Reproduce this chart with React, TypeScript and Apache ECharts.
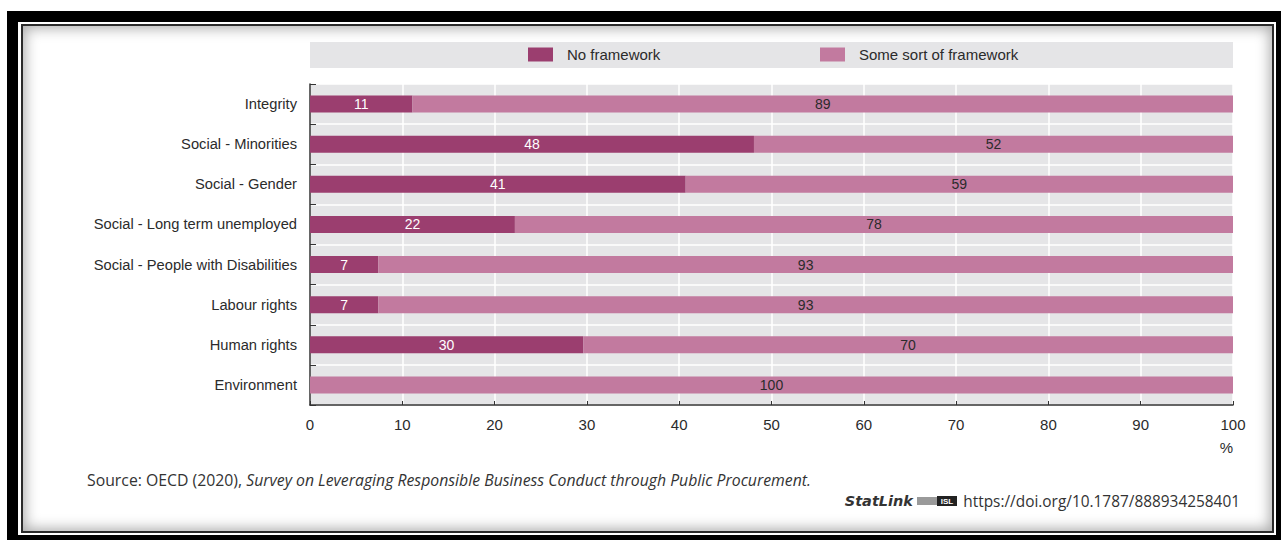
import React, { useEffect, useRef } from "react";
import * as echarts from "echarts";

const categories = [
  "Integrity",
  "Social - Minorities",
  "Social - Gender",
  "Social - Long term unemployed",
  "Social - People with Disabilities",
  "Labour rights",
  "Human rights",
  "Environment",
];
const noFramework = [11.1, 48.1, 40.7, 22.2, 7.4, 7.4, 29.6, 0];
const someFramework = [88.9, 51.9, 59.3, 77.8, 92.6, 92.6, 70.4, 100];
const xTicks = [0, 10, 20, 30, 40, 50, 60, 70, 80, 90, 100];
const seriesNames = ["No framework", "Some sort of framework"];

const DARK = "#9b3e6f";
const LIGHT = "#c27a9f";
const BG = "#e5e5e7";
const TXT = "#2b2b2b";
const FONT = "'Liberation Sans Narrow', 'Liberation Sans', Arial, sans-serif";
const SRC_FONT = "'Open Sans', 'Noto Sans', sans-serif";

export default function App() {
  const ref = useRef<HTMLDivElement>(null);
  useEffect(() => {
    document.body.style.margin = "0";
    const chart = echarts.init(ref.current!, null, { renderer: "svg" });
    const fmt = (p: any) => (p.value > 0 ? String(Math.round(p.value)) : "");
    const legendCommon = {
      top: 47,
      padding: 0,
      itemWidth: 25,
      itemHeight: 14,
      icon: "rect",
      textStyle: { fontFamily: FONT, fontSize: 15, color: TXT, padding: [0, 0, 0, 9] },
    };
    chart.setOption({
      animation: false,
      backgroundColor: "transparent",
      textStyle: { fontFamily: FONT },
      grid: { left: 310, right: 48, top: 84, height: 321, containLabel: false, show: true, backgroundColor: BG, borderWidth: 0 },
      legend: [
        { ...legendCommon, data: [seriesNames[0]], left: 528 },
        { ...legendCommon, data: [seriesNames[1]], left: 820 },
      ],
      xAxis: {
        type: "value",
        min: 0,
        max: 100,
        interval: 10,
        axisLine: { show: true, lineStyle: { color: "#333", width: 1.5 } },
        axisTick: { show: true, inside: true, length: 4, lineStyle: { color: "#333" } },
        splitLine: { show: true, lineStyle: { color: "#ffffff", width: 1.5 } },
        axisLabel: { fontFamily: FONT, fontSize: 15, color: TXT, margin: 12, formatter: (v: number) => (xTicks.includes(v) ? String(v) : "") },
      },
      yAxis: {
        type: "category",
        data: categories,
        inverse: true,
        axisLine: { show: true, lineStyle: { color: "#333", width: 1.5 } },
        axisTick: { show: true, inside: true, length: 6, lineStyle: { color: "#333" } },
        splitLine: { show: true, lineStyle: { color: "#ffffff", width: 1.5 } },
        axisLabel: { fontFamily: FONT, fontSize: 14.7, color: TXT, margin: 13 },
      },
      series: [
        {
          name: seriesNames[0],
          type: "bar",
          stack: "total",
          data: noFramework,
          barWidth: 17,
          itemStyle: { color: DARK },
          label: { show: true, position: "inside", color: "#fff", fontFamily: FONT, fontSize: 14, formatter: fmt },
        },
        {
          name: seriesNames[1],
          type: "bar",
          stack: "total",
          data: someFramework,
          barWidth: 17,
          itemStyle: { color: LIGHT },
          label: { show: true, position: "inside", color: TXT, fontFamily: FONT, fontSize: 14, formatter: fmt },
        },
      ],
      graphic: [
        { type: "rect", z: -10, shape: { x: 310, y: 42, width: 923, height: 26 }, style: { fill: BG } },
        { type: "text", x: 1233, y: 447, style: { text: "%", fontFamily: FONT, fontSize: 15, fill: TXT, align: "right", verticalAlign: "middle" } },
        {
          type: "text",
          x: 87,
          y: 480,
          style: {
            text: "{n|Source: OECD (2020), }{i|Survey on Leveraging Responsible Business Conduct through Public Procurement.}",
            verticalAlign: "middle",
            rich: {
              n: { fontFamily: SRC_FONT, fontSize: 15.8, fill: "#333" },
              i: { fontFamily: SRC_FONT, fontSize: 15.8, fontStyle: "italic", fill: "#333" },
            },
          },
        },
        { type: "text", x: 913, y: 501, style: { text: "StatLink", fontFamily: "'DejaVu Sans', sans-serif", fontSize: 14.5, fontWeight: "bold", fontStyle: "italic", fill: "#333", align: "right", verticalAlign: "middle" } },
        { type: "rect", shape: { x: 917, y: 497, width: 22, height: 8 }, style: { fill: "#9a9a9a" } },
        { type: "rect", shape: { x: 937, y: 496, width: 20, height: 10 }, style: { fill: "#222" } },
        { type: "text", x: 947, y: 501, style: { text: "ISL", fontFamily: FONT, fontSize: 8, fontWeight: "bold", fill: "#fff", align: "center", verticalAlign: "middle" } },
        { type: "text", x: 1240, y: 501, style: { text: "https://doi.org/10.1787/888934258401", fontFamily: SRC_FONT, fontSize: 15.4, fill: "#333", align: "right", verticalAlign: "middle" } },
      ],
    });
    return () => chart.dispose();
  }, []);

  return (
    <div style={{ position: "relative", width: 1281, height: 540, background: "#fff", overflow: "hidden" }}>
      <div style={{ position: "absolute", left: 7, top: 11, width: 1274, height: 529, background: "#000" }} />
      <div style={{ position: "absolute", left: 18, top: 22, width: 1258, height: 513, background: "#fff" }} />
      <div
        style={{
          position: "absolute",
          left: 21,
          top: 24,
          width: 1253,
          height: 509,
          boxSizing: "border-box",
          border: "2px solid #2a2a2a",
          background: "#fff",
          boxShadow: "inset 0 0 14px 2px rgba(0,0,0,0.35)",
        }}
      />
      <div ref={ref} style={{ position: "absolute", left: 0, top: 0, width: 1281, height: 540 }} />
    </div>
  );
}
